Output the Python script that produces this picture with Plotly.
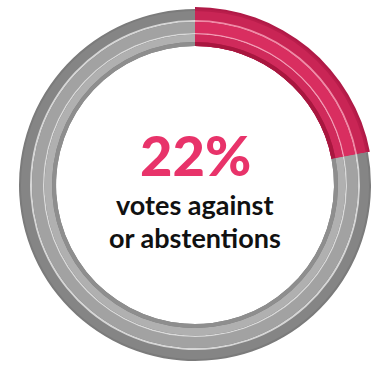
import plotly.graph_objects as go

# ---- data ----
categories = ["Votes against or abstentions", "Votes for"]
values = [22, 78]
headline = "22%"
caption_lines = ["votes against", "or abstentions"]

W, H = 374, 365
CX, CY = 195, 185  # ring centre in px (from top-left)

# radial bands: (outer radius px, inner radius px, pink colour, grey colour)
bands = [
    (178, 139, "#b01a47", "rgba(0,0,0,0)"),
    (176, 139, "#b91d4b", "#7b7b7b"),
    (174, 165, "#c92555", "#858585"),
    (165, 163, "#f08aa6", "#d6d6d6"),
    (163, 152, "#d92e60", "#a2a2a2"),
    (152, 150.5, "#f59ab4", "#dadada"),
    (150.5, 143, "#d02a5b", "#b0b0b0"),
    (143, 139, "#a8173f", "#8e8e8e"),
]

fig = go.Figure()
for ro, ri, pc, gc in bands:
    fig.add_trace(go.Pie(
        labels=categories,
        values=values,
        sort=False,
        direction="clockwise",
        rotation=0,
        hole=ri / ro,
        marker=dict(colors=[pc, gc], line=dict(width=0)),
        textinfo="none",
        hoverinfo="label+percent",
        showlegend=False,
        domain=dict(
            x=[(CX - ro) / W, (CX + ro) / W],
            y=[1 - (CY + ro) / H, 1 - (CY - ro) / H],
        ),
    ))

fig.add_annotation(
    x=CX / W, y=1 - 154 / H, xref="paper", yref="paper",
    text=headline, showarrow=False,
    font=dict(family="Lato", size=56, color="#e8336a", weight=900),
)
fig.add_annotation(
    x=CX / W, y=1 - 204 / H, xref="paper", yref="paper",
    text=caption_lines[0], showarrow=False,
    font=dict(family="Lato", size=27, color="#111111", weight=700),
)
fig.add_annotation(
    x=CX / W, y=1 - 237 / H, xref="paper", yref="paper",
    text=caption_lines[1], showarrow=False,
    font=dict(family="Lato", size=27, color="#111111", weight=700),
)

fig.update_layout(
    width=W, height=H,
    margin=dict(l=0, r=0, t=0, b=0),
    paper_bgcolor="white", plot_bgcolor="white",
)
fig.write_html("out.html")
